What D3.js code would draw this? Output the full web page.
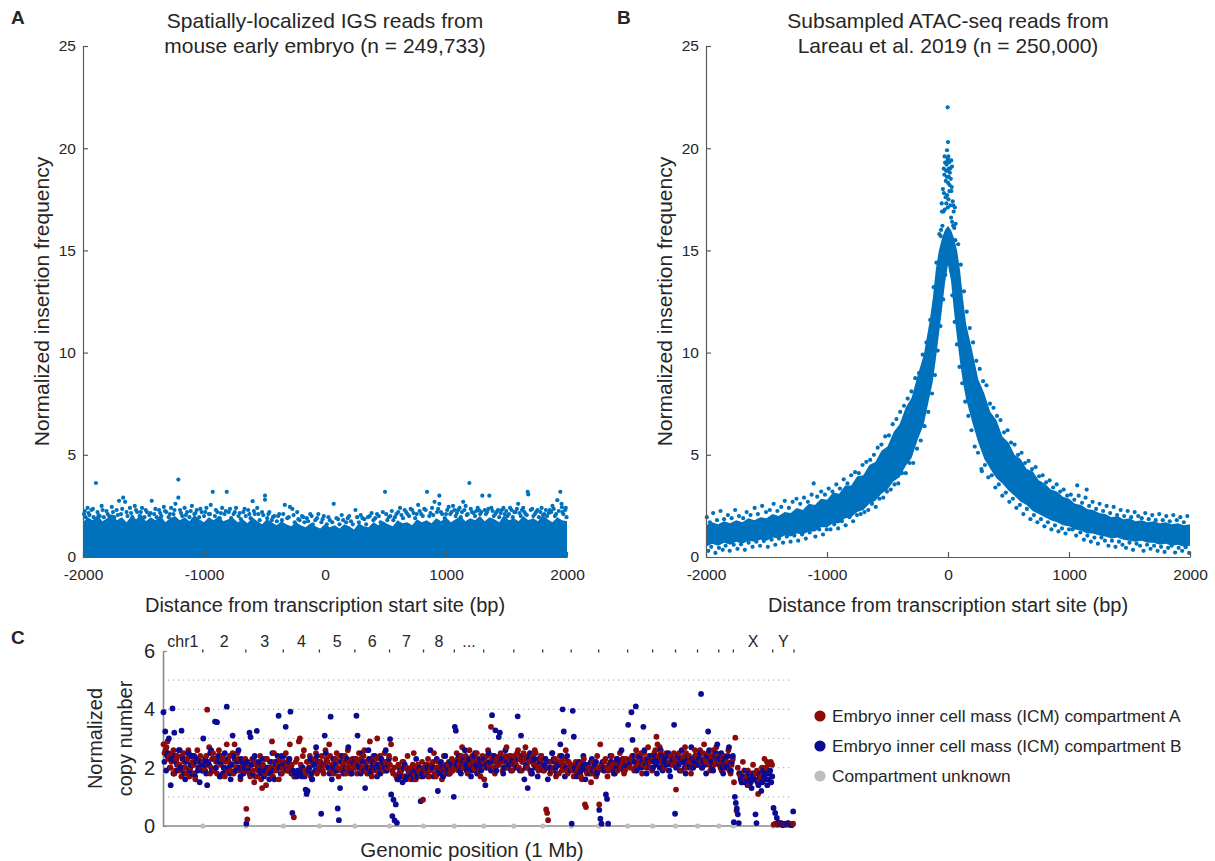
<!DOCTYPE html>
<html><head><meta charset="utf-8">
<script src="https://cdn.jsdelivr.net/npm/d3@7"></script>
<style>
body{margin:0;background:#fff;}
svg text{font-family:"Liberation Sans",Arial,Helvetica,sans-serif;fill:#262626;}
</style></head><body>
<svg id="chart" width="1215" height="861"></svg>
<script>
// ---------------- DATA ----------------
const tssTicks = [-2000, -1000, 0, 1000, 2000];
const freqTicks = [0, 5, 10, 15, 20, 25];

// Panel A: upper edge of the dense core of reads (core starts at 0), every 40 bp
const aBandX = [-2000,-1960,-1920,-1880,-1840,-1800,-1760,-1720,-1680,-1640,-1600,-1560,-1520,-1480,-1440,-1400,-1360,-1320,-1280,-1240,-1200,-1160,-1120,-1080,-1040,-1000,-960,-920,-880,-840,-800,-760,-720,-680,-640,-600,-560,-520,-480,-440,-400,-360,-320,-280,-240,-200,-160,-120,-80,-40,0,40,80,120,160,200,240,280,320,360,400,440,480,520,560,600,640,680,720,760,800,840,880,920,960,1000,1040,1080,1120,1160,1200,1240,1280,1320,1360,1400,1440,1480,1520,1560,1600,1640,1680,1720,1760,1800,1840,1880,1920,1960,2000];
const aBandHi = [1.7,1.95,1.8,2.05,1.75,1.9,2.1,1.8,1.95,1.7,2.0,1.85,2.1,1.75,1.95,1.8,2.05,1.7,1.9,2.0,1.8,1.95,1.75,2.05,1.85,1.7,1.95,1.8,2.0,1.75,1.85,1.9,1.7,1.85,1.65,1.95,1.75,1.6,1.85,1.7,1.55,1.75,1.6,1.5,1.7,1.55,1.45,1.65,1.5,1.4,1.6,1.45,1.55,1.4,1.6,1.5,1.35,1.65,1.5,1.45,1.7,1.55,1.75,1.6,1.5,1.8,1.65,1.7,1.55,1.85,1.7,1.8,1.65,1.9,1.75,1.95,1.7,1.85,2.0,1.75,1.9,1.8,2.0,1.75,1.95,1.85,1.7,2.05,1.8,1.9,1.75,2.0,1.8,1.9,1.75,2.05,1.85,1.7,1.95,1.8,1.75];
// Panel A: individual reads outside the core [bp, frequency]
const aPoints = [[-1992,2.1],[-1978,1.95],[-1962,2.4],[-1946,2.05],[-1930,2.3],[-1912,1.95],[-1893,3.62],[-1880,2.2],[-1862,2.0],[-1846,2.5],[-1828,1.95],[-1806,2.25],[-1784,2.0],[-1762,2.45],[-1742,1.95],[-1722,2.3],[-1702,2.75],[-1686,2.1],[-1668,2.9],[-1652,2.7],[-1632,2.0],[-1612,2.4],[-1592,1.95],[-1572,2.5],[-1552,2.2],[-1532,2.0],[-1512,2.4],[-1492,1.95],[-1472,2.2],[-1452,2.05],[-1432,2.75],[-1412,2.1],[-1392,1.95],[-1372,2.3],[-1352,2.0],[-1332,2.45],[-1312,2.2],[-1292,1.95],[-1272,2.4],[-1252,2.1],[-1236,2.6],[-1212,3.79],[-1212,2.9],[-1198,2.3],[-1180,2.0],[-1160,2.4],[-1140,2.2],[-1120,1.95],[-1100,2.5],[-1080,2.1],[-1060,2.3],[-1040,1.95],[-1020,2.2],[-1000,2.0],[-980,2.4],[-960,2.1],[-944,2.55],[-928,3.19],[-910,2.0],[-890,2.2],[-870,1.9],[-850,2.4],[-830,2.1],[-812,3.19],[-795,2.2],[-775,1.9],[-755,2.1],[-735,2.4],[-715,2.0],[-695,1.85],[-675,2.2],[-655,2.0],[-635,2.3],[-615,1.9],[-598,2.73],[-580,2.1],[-560,2.4],[-540,1.8],[-520,2.2],[-496,3.0],[-496,2.8],[-478,1.9],[-460,2.2],[-440,1.8],[-420,2.0],[-398,1.75],[-378,2.1],[-356,1.8],[-332,2.55],[-312,1.9],[-290,2.45],[-270,2.35],[-250,1.7],[-230,2.2],[-210,1.8],[-190,2.0],[-170,1.7],[-150,1.9],[-122,2.1],[-100,1.6],[-80,1.8],[-55,2.1],[-30,1.7],[-10,2.0],[15,1.6],[40,1.8],[72,2.6],[95,1.9],[120,1.6],[150,1.8],[175,1.7],[200,2.0],[230,1.6],[252,2.3],[280,1.7],[310,1.9],[340,1.6],[370,2.0],[400,1.8],[430,2.1],[460,1.7],[478,2.2],[496,3.19],[515,1.8],[540,2.0],[565,1.8],[590,2.1],[620,2.4],[645,1.9],[670,2.2],[695,2.0],[720,2.3],[745,1.9],[770,2.55],[795,2.1],[820,2.35],[843,3.19],[862,2.0],[885,2.4],[905,2.7],[925,2.2],[945,3.0],[945,2.6],[968,2.1],[990,1.9],[1010,2.3],[1035,2.1],[1058,2.5],[1080,2.0],[1100,2.3],[1122,1.95],[1142,2.7],[1162,2.5],[1180,2.1],[1193,3.62],[1215,2.2],[1240,2.0],[1262,2.4],[1282,2.1],[1300,3.0],[1320,2.3],[1340,2.2],[1358,3.0],[1375,2.4],[1395,2.0],[1418,2.2],[1440,1.95],[1462,2.3],[1485,2.1],[1508,2.0],[1530,2.4],[1552,1.95],[1575,2.2],[1596,2.6],[1618,2.0],[1638,2.4],[1658,2.1],[1675,3.19],[1680,3.06],[1700,2.3],[1722,2.0],[1745,2.2],[1768,1.95],[1790,2.4],[1812,2.1],[1835,2.0],[1858,2.3],[1880,2.5],[1900,2.0],[1920,2.78],[1945,3.19],[1955,2.6],[1958,2.44],[1970,2.1],[1985,2.3],[1996,1.95],
[-1985,2.25],[-1955,2.15],[-1918,2.35],[-1872,2.05],[-1838,2.3],[-1796,2.1],[-1752,2.2],[-1712,2.05],[-1676,2.35],[-1640,2.2],[-1602,2.15],[-1562,2.3],[-1522,2.2],[-1482,2.3],[-1442,2.15],[-1402,2.35],[-1362,2.15],[-1322,2.25],[-1282,2.1],[-1244,2.3],[-1190,2.15],[-1150,2.05],[-1110,2.25],[-1070,2.15],[-1030,2.35],[-990,2.2],[-950,2.1],[-902,2.3],[-860,2.15],[-820,2.25],[-785,2.35],[-745,2.2],[-705,2.15],[-665,2.35],[-625,2.1],[-588,2.25],[-550,2.1],[-510,2.05],[-468,2.1],[-430,1.95],[-388,2.0],[-345,2.1],[-300,1.95],[-260,2.05],[-220,1.85],[-180,1.95],[-140,1.75],[-110,2.0],[-66,1.9],[-20,1.85],[28,1.95],[60,1.7],[108,1.85],[138,2.05],[188,1.9],[215,1.75],[266,1.95],[295,2.05],[325,1.85],[355,1.95],[385,2.15],[415,1.9],[445,2.0],[505,2.1],[528,1.95],[552,2.25],[578,1.95],[605,2.2],[632,2.05],[658,2.3],[682,2.1],[708,2.35],[732,2.15],[758,2.1],[782,2.25],[808,2.0],[832,2.3],[872,2.15],[895,2.05],[935,2.35],[958,2.2],[1000,2.1],[1022,2.45],[1046,2.2],[1070,2.3],[1090,2.15],[1112,2.4],[1132,2.2],[1152,2.3],[1172,2.05],[1205,2.35],[1228,2.15],[1250,2.25],[1272,2.3],[1292,2.2],[1330,2.1],[1350,2.35],[1385,2.25],[1408,2.1],[1430,2.3],[1452,2.15],[1475,2.4],[1498,2.25],[1520,2.1],[1542,2.3],[1564,2.2],[1586,2.35],[1608,2.15],[1628,2.3],[1648,2.2],[1668,2.05],[1712,2.35],[1735,2.1],[1756,2.3],[1780,2.2],[1802,2.05],[1825,2.3],[1848,2.15],[1870,2.2],[1890,2.35],[1910,2.1],[1932,2.25],[1962,2.2],[1990,2.4]];

// Panel B: dense core of reads (lower / upper edge)
const bBandX  = [-2000,-1950,-1900,-1850,-1800,-1750,-1700,-1650,-1600,-1550,-1500,-1450,-1400,-1350,-1300,-1250,-1200,-1150,-1100,-1050,-1000,-950,-900,-850,-800,-750,-700,-650,-600,-550,-500,-450,-400,-350,-300,-250,-200,-150,-125,-100,-75,-50,-25,0,25,50,75,100,125,150,200,250,300,350,400,450,500,550,600,650,700,750,800,850,900,950,1000,1050,1100,1150,1200,1250,1300,1350,1400,1450,1500,1550,1600,1650,1700,1750,1800,1850,1900,1950,2000];
const bBandLo = [0.5,0.65,0.55,0.7,0.6,0.75,0.65,0.8,0.75,0.85,0.8,0.95,0.9,1.05,1.0,1.15,1.1,1.25,1.25,1.45,1.45,1.65,1.65,1.9,1.95,2.2,2.3,2.6,2.75,3.1,3.3,3.7,3.9,4.45,4.85,5.75,6.5,7.9,8.6,9.7,10.9,12.1,13.4,14.3,13.5,12.0,10.7,9.5,8.5,7.7,6.6,5.6,4.8,4.3,3.85,3.6,3.25,3.0,2.7,2.55,2.25,2.1,1.95,1.8,1.7,1.55,1.5,1.35,1.3,1.15,1.15,1.05,1.0,0.9,0.95,0.85,0.8,0.75,0.8,0.7,0.7,0.6,0.65,0.55,0.6,0.5,0.55];
const bBandHi = [1.55,1.7,1.6,1.75,1.65,1.8,1.7,1.9,1.8,1.95,1.9,2.1,2.0,2.2,2.15,2.4,2.3,2.6,2.55,2.85,2.8,3.15,3.1,3.5,3.5,3.95,4.0,4.5,4.65,5.2,5.4,6.1,6.5,7.3,7.8,8.9,9.9,11.6,12.7,14.1,15.0,15.6,16.0,16.2,16.0,15.6,15.0,14.0,12.6,11.4,10.1,8.7,8.0,7.1,6.7,5.9,5.6,5.0,4.8,4.3,4.2,3.75,3.6,3.3,3.2,2.95,2.85,2.6,2.55,2.35,2.3,2.15,2.1,1.95,2.0,1.85,1.9,1.75,1.8,1.7,1.75,1.65,1.7,1.6,1.65,1.55,1.6];
// Panel B: individual reads outside the core
const bPoints = [
[-1981,0.3],[-1957,0.5],[-1922,0.2],[-1893,0.45],[-1862,0.35],[-1838,0.55],[-1804,0.3],[-1771,0.6],[-1740,0.4],[-1711,0.62],[-1679,0.35],[-1648,0.7],[-1615,0.5],[-1584,0.75],[-1553,0.55],[-1522,0.78],[-1489,0.5],[-1458,0.85],[-1427,0.6],[-1396,0.9],[-1363,0.7],[-1332,1.0],[-1301,0.75],[-1270,1.05],[-1238,0.8],[-1206,1.1],[-1175,0.9],[-1143,1.2],[-1096,1.0],[-1064,1.35],[-1033,1.1],[-1002,1.35],
[-1993,1.95],[-1968,1.7],[-1941,2.15],[-1909,1.8],[-1880,2.25],[-1851,1.85],[-1819,2.05],[-1788,1.9],[-1759,2.3],[-1727,2.0],[-1693,1.9],[-1664,2.2],[-1632,2.05],[-1598,2.4],[-1571,2.1],[-1536,2.5],[-1504,2.2],[-1473,2.3],[-1441,2.6],[-1410,2.25],[-1378,2.45],[-1349,2.75],[-1315,2.4],[-1284,2.7],[-1252,2.85],[-1221,2.6],[-1190,2.9],[-1158,2.7],[-1127,3.05],[-1110,3.6],[-1081,2.95],[-1048,3.2],[-1017,3.05],
[-986,3.35],[-971,1.35],[-955,3.2],[-940,1.6],[-923,3.55],[-908,1.4],[-893,3.35],[-877,1.75],[-862,3.8],[-846,1.55],[-831,3.6],[-815,1.95],[-800,4.0],[-784,1.75],[-768,4.15],[-752,2.05],[-737,4.1],[-721,2.1],[-706,4.5],[-690,2.2],[-675,4.65],[-659,2.3],[-643,4.75],[-628,2.6],[-612,5.0],[-597,2.45],[-581,5.35],[-566,2.85],[-550,5.5],[-535,2.9],[-519,5.9],[-504,3.2],[-488,5.95],[-473,3.3],[-457,6.5],[-442,3.55],[-426,6.75],[-411,3.6],[-395,7.1],[-380,4.1],[-364,7.4],[-349,4.1],[-333,7.75],[-318,4.6],[-302,8.1],[-287,4.6],[-271,8.75],[-256,5.3],[-240,9.0],[-225,5.7],[-209,9.9],[-194,6.4],[-178,10.5],[-163,7.1],[-147,11.6],[-132,8.0],
[-118,13.2],[-108,8.9],[-96,14.4],[-85,10.1],[-72,15.8],[-62,11.3],[-50,16.9],[-40,12.6],[-33,17.8],[-22,13.8],[-18,18.4],[-12,19.2],[-8,19.9],[-5,18.9],[-3,22.0],[-1,19.5],[0,20.3],[3,19.6],[6,18.6],[9,19.3],[13,18.2],[17,19.0],[24,14.0],[28,17.9],[36,12.8],[44,17.2],[55,11.5],[63,16.3],[74,10.4],[84,15.3],[95,9.3],[106,14.3],[118,8.5],
[-58,16.0],[-52,17.3],[-46,16.2],[-42,18.0],[-37,16.9],[-30,18.7],[-27,17.0],[-24,19.3],[-20,17.6],[-16,18.9],[-14,17.3],[-10,18.6],[-7,17.7],[-4,19.4],[-2,17.1],[1,18.3],[4,17.5],[7,19.0],[11,17.9],[15,18.8],[19,17.2],[23,18.5],[26,16.6],[31,18.1],[34,16.4],[39,17.4],[42,16.2],[47,16.9],[52,16.1],[57,17.1],[-60,15.7],[60,15.5],[-35,19.0],[33,19.1],[-28,19.6],[27,19.4],
[132,13.0],[142,7.6],[155,12.0],[168,6.9],[180,11.2],[194,6.2],[207,10.5],[221,5.4],[234,9.6],[248,5.1],[262,9.2],[276,4.3],[280,4.2],[290,8.6],
[305,4.5],[333,3.9],[362,4.0],[391,3.4],[420,3.55],[449,3.0],[478,3.15],[507,2.7],[536,2.85],[565,2.4],[594,2.55],[623,2.1],[652,2.35],[681,1.85],[710,2.05],[739,1.7],[768,1.85],[797,1.5],[826,1.7],[855,1.35],[884,1.55],[913,1.25],[942,1.4],[971,1.15],[1000,1.35],
[318,8.4],[347,7.5],[376,7.3],[405,6.9],[434,6.7],[463,6.1],[492,6.2],[521,5.6],[550,5.5],[579,5.0],[608,5.1],[637,4.6],[666,4.7],[695,4.3],[724,4.4],[753,3.95],[782,4.0],[811,3.65],[840,3.75],[869,3.4],[898,3.55],[927,3.2],[956,3.3],[985,3.0],
[1030,1.35],[1059,1.05],[1094,1.2],[1123,0.85],[1152,1.05],[1181,0.75],[1210,0.95],[1239,0.65],[1268,0.95],[1297,0.8],[1326,0.55],[1355,0.8],[1384,0.5],[1413,0.75],[1442,0.6],[1471,0.45],[1500,0.7],[1529,0.35],[1558,0.65],[1587,0.55],[1616,0.3],[1645,0.6],[1674,0.4],[1703,0.55],[1732,0.3],[1761,0.5],[1790,0.25],[1819,0.45],[1848,0.55],[1877,0.22],[1906,0.45],[1935,0.3],[1964,0.48],[1993,0.2],
[1015,3.05],[1044,2.8],[1068,3.5],[1080,3.0],[1108,2.65],[1137,2.9],[1146,3.3],[1166,2.5],[1195,2.7],[1224,2.35],[1253,2.6],[1282,2.25],[1311,2.5],[1340,2.15],[1369,2.45],[1398,2.05],[1427,2.3],[1456,2.0],[1485,2.25],[1514,1.95],[1543,2.2],[1572,2.0],[1601,1.9],[1630,2.15],[1659,1.85],[1688,2.05],[1717,1.8],[1746,2.1],[1775,1.8],[1804,2.0],[1833,1.75],[1862,2.05],[1891,1.8],[1920,1.95],[1949,1.7],[1978,2.0]];

// Panel C: chromosomes (length in 1-Mb bins) and labels
const chromNames   = ["1","2","3","4","5","6","7","8","9","10","11","12","13","14","15","16","17","18","19","X","Y"];
const chromLabels  = ["chr1","2","3","4","5","6","7","8","...","","","","","","","","","","","X","Y"];
const chromLengths = [172,186,162,156,153,150,147,133,127,130,125,123,119,125,108,99,95,92,63,170,92];
const copyTicks = [0, 2, 4, 6];
const copyGrid  = [1, 2, 3, 4, 5];
// normalized copy number of bins in compartment A, per chromosome (in genomic order)
const compA = [
 [2.8,2.5,2.6,2.7,2.9,2.3,2.4,2.0,2.2,2.5,2.6,1.8,1.9,2.3,2.4,2.1,2.1,1.9,1.7,2.4,2.5,2.2,2.0,1.8,2.3,2.6,1.7,2.0,2.4,2.2,2.1,1.8,1.6,2.3,2.6,2.0,2.2,2.4,2.0,1.9],
 [2.2,2.0,1.9,2.4,3.99,2.1,2.7,1.8,2.0,2.3,2.5,1.9,2.3,2.2,1.8,2.4,2.6,1.7,2.1,2.3,2.4,2.0,1.7,2.2,2.8,1.9,2.2,2.4,1.9,2.1,2.5,1.8,2.8,2.2,2.0,2.5,2.3,1.9,1.6,2.2,2.1,2.0,1.9,2.3],
 [0.59,0.23,2.0,1.8,1.7,2.1,2.3,1.9,1.5,2.2,2.1,1.7,1.9,2.0,2.4,1.6,1.3,2.1,2.0,1.8,1.4,2.3,1.8,1.9,2.2,2.0,2.9,1.7,2.5,2.2,1.9,2.0,2.1,1.6,2.3,2.2,1.8,2.0],
 [2.2,1.9,2.5,2.1,1.9,2.3,2.8,2.0,2.1,1.8,0.3,1.7,2.2,2.3,1.9,2.9,3.0,2.1,2.0,2.4,2.6,1.9,1.8,2.2,2.2,2.0,2.4,1.7,1.6,2.1,2.1,2.3,2.5,1.8,1.9,2.2],
 [2.0,2.2,2.4,1.9,1.8,2.1,2.6,2.3,2.2,2.0,2.8,2.4,1.9,2.1,2.3,1.8,2.1,2.3,2.5,2.0,1.7,2.2,2.4,1.9,2.0,2.1,2.2,2.4,1.8,2.0,2.6,2.2,2.1,1.8,1.9,2.3,2.3,2.0],
 [2.1,2.3,1.8,2.0,2.5,2.2,2.3,1.9,2.0,2.4,2.6,2.1,1.9,1.8,2.2,2.3,2.9,2.0,1.7,2.2,2.4,1.9,2.1,2.3,3.0,2.0,1.8,2.4,2.3,2.1,2.0,1.9,2.5,2.2,1.9,2.0,2.2,2.4],
 [2.1,2.8,1.9,1.8,2.0,2.3,1.7,1.6,2.1,2.0,1.8,1.9,2.2,2.2,1.7,1.7,2.0,2.4,1.9,1.8,1.6,2.0,2.1,2.5,1.8,1.6,2.0,2.1,1.9,1.9,1.7,2.2,0.9],
 [2.0,1.9,1.8,2.1,2.3,1.7,1.9,2.0,2.1,2.2,2.5,1.8,1.7,2.0,2.2,1.9,2.0,2.1,1.6,1.9,2.4,2.0,1.9,1.8,2.1,2.2,1.8,2.0,2.3,1.9,2.0],
 [2.2,2.0,2.5,2.3,1.9,2.1,2.3,2.4,2.7,2.0,2.0,2.2,2.4,1.9,1.8,2.3,2.6,2.1,2.1,2.4,2.3,2.0,1.9,2.2,2.5,2.3,2.2,1.9,1.7,2.1,2.4,2.2],
 [1.6,2.0,2.2,2.4,2.6,2.1,2.0,3.4,2.3,2.4,2.0,1.8,2.2,2.3,2.1,2.1,2.4,2.5,2.2,1.9,2.0,2.2,2.4,2.7,2.1,2.0,2.3,2.4,2.2,1.9,2.1],
 [2.4,2.2,2.1,2.5,2.6,2.0,2.3,2.4,1.9,2.2,2.5,2.3,2.7,2.1,2.0,2.4,2.2,1.9,1.8,2.3,2.4,2.1,2.6,2.5,2.1,2.0,1.9,2.2,2.3,2.4,2.0],
 [2.1,1.9,2.3,0.57,0.45,0.2,2.0,1.8,2.2,2.5,1.9,2.0,2.3,1.7,2.1,2.2,1.8,2.4,2.2,1.9,2.0,2.1,2.3,2.6,1.9,1.8,2.2,2.0,2.1],
 [2.0,1.9,1.7,2.1,2.2,1.8,1.9,2.0,2.1,1.7,1.6,2.2,2.3,0.74,0.65,1.8,2.0,2.0,1.9,1.5,1.8,2.2,2.1,1.9,1.7,2.4,2.0],
 [0.74,2.8,2.1,2.0,1.9,2.2,2.3,2.0,1.7,1.9,2.0,2.2,2.4,2.1,1.8,2.0,2.2,2.3,1.9,2.1,2.5,2.0,2.1,2.3,1.8,1.9,2.3,2.2],
 [2.2,2.1,2.0,2.3,2.4,2.2,1.9,2.0,2.6,2.4,2.1,2.2,2.3,2.5,1.8,2.1,2.5,2.3,2.0,2.2,2.7,2.4,2.2,2.0,1.9],
 [2.3,2.5,2.6,3.06,2.8,2.4,2.7,2.5,2.2,2.3,2.0,2.1,2.5,2.4,1.9,2.2,2.4,2.3,2.1,2.5,2.3],
 [1.25,2.2,2.1,2.5,2.3,1.9,2.2,2.3,2.4,2.7,2.5,2.0,2.1,2.4,2.2,1.8,2.0,2.2,2.3,2.6,2.4,2.1],
 [2.3,2.4,2.6,2.2,2.0,2.5,2.8,2.3,2.2,2.4,2.5,2.1,1.9,2.3,2.4,2.6,2.1,2.2,2.7,2.4,2.2],
 [2.2,2.0,1.9,2.3,2.4,2.1,2.0,2.2,2.6,1.9,1.8,2.1,2.3],
 [1.5,3.03,0.52,2.0,1.8,1.7,1.5,2.2,1.9,1.6,1.7,1.9,1.4,1.5,1.8,2.1,1.6,1.8,1.9,1.1,1.6,1.7,2.0,1.8,2.3,2.0,2.2,2.1,1.9,2.2,2.1],
 [0.05,0.08,0.04,0.06,0.1,0.03,0.07,0.05,0.09,0.04,0.06,0.08]
];
// normalized copy number of bins in compartment B, per chromosome
const compB = [
 [3.9,2.2,3.24,1.9,2.4,2.5,3.0,2.0,1.4,2.3,4.03,1.8,3.2,2.4,2.2,2.1,1.9,2.6,2.6,2.0,3.27,2.3,2.0,1.8,1.6,2.2,2.3,2.5,2.5,1.9,2.1,2.4,1.8,2.1,2.4,1.7,2.2,2.3,1.9,2.0,1.5,2.2,2.1,1.9],
 [3.0,2.1,2.3,1.8,1.4,2.2,2.1,2.5,2.6,1.9,1.9,2.3,3.58,2.0,3.56,2.2,2.4,1.7,2.2,2.4,1.8,2.0,2.5,1.9,4.09,2.3,2.0,1.8,1.6,2.1,3.1,2.4,2.3,1.9,1.9,2.2,2.6,2.0,1.7,2.3,2.2,1.8,2.0,2.1],
 [0.08,2.2,1.9,3.2,3.05,2.1,1.8,2.3,2.4,1.7,3.26,2.0,2.2,1.9,1.8,2.1,2.3,1.7,1.9,2.3,2.0,2.0,1.6,1.8,2.2,2.5,1.9,1.6,2.1,2.2,2.4,3.78,2.0,1.8,2.4,2.1],
 [2.4,2.1,3.4,2.0,1.9,2.2,2.3,3.92,1.8,0.45,1.9,1.7,1.8,1.8,1.7,1.9,1.9,1.8,1.8,1.7,2.0,1.9,1.7,1.25,1.1,1.2,1.9,2.0,2.3,1.8,1.6,2.2,2.1,1.9,2.7,2.4,2.2,2.0],
 [2.2,0.42,1.9,2.1,3.1,2.5,2.2,2.0,1.8,3.75,1.6,2.0,2.3,2.1,1.9,0.6,0.2,1.3,2.2,2.4,1.8,1.9,2.0,2.3,2.7,2.1,1.9,1.8,2.2,2.0],
 [2.3,3.78,3.1,2.1,2.0,1.8,2.5,2.2,1.9,1.3,2.2,2.0,2.6,2.3,1.8,1.9,2.1,2.2,2.4,2.0,1.7,2.1,2.0,1.8,2.3,2.2,1.9,2.0,2.6,1.9,2.1,2.3],
 [2.98,1.08,0.34,0.9,0.19,0.74,0.11,1.6,1.8,1.9,1.7,1.5,2.0,2.1,1.6,1.7,1.9,1.8,1.7,2.0,1.8,1.6,1.9,2.3,1.7,1.9,2.0,0.85,1.8,1.7],
 [1.9,1.8,2.1,2.0,1.7,1.9,2.6,2.1,2.0,1.7,1.8,2.0,2.3,1.2,1.9,1.8,2.2,2.0,1.7,1.9,2.4,2.1,2.0,1.8,1.8,2.2,2.1,1.9,1.0],
 [3.4,3.27,2.1,2.2,2.4,1.9,1.8,2.0,2.2,2.3,2.6,2.1,1.9,2.0,2.3,2.2,1.7,1.9,2.0,2.4,2.5,2.1,1.8,2.0,2.1,2.3,1.9,2.1,2.2],
 [2.3,1.4,2.1,2.0,2.5,2.2,1.9,3.8,2.2,2.4,3.28,1.9,2.1,3.05,3.2,2.2,2.3,1.8,2.0,2.6,2.2,2.0,2.1,2.4,1.9,2.2,2.3],
 [2.2,2.1,2.0,3.76,2.3,1.9,3.1,2.2,2.4,1.6,2.0,2.1,1.3,2.3,2.5,1.9,1.8,2.2,2.3,2.0,2.1,1.7,2.3,2.2,2.4,2.0],
 [1.9,2.1,2.3,2.0,1.6,2.2,2.0,1.9,2.5,2.3,2.2,2.0,1.8,2.1,2.1,2.8,2.4,4.0,3.24,1.7,2.0,2.4,2.2,2.0,1.9],
 [0.08,3.95,3.06,2.0,1.9,1.7,2.1,2.2,1.8,1.9,2.0,2.4,2.1,1.6,1.9,2.1,2.0,1.8,2.2,2.3,1.9,2.0,2.1,2.2,1.8,1.9],
 [0.55,0.25,0.08,2.2,2.0,1.9,1.08,0.93,0.08,2.1,2.4,2.2,2.1,1.9,1.8,2.0,2.3,2.2,2.0,2.1,2.6,2.3,1.9,2.0,2.2,2.1],
 [3.47,2.1,2.3,3.9,2.95,2.4,2.2,4.1,1.9,2.1,2.3,2.4,2.0,2.2,3.4,2.6,2.1,1.8,2.3,2.2,2.0,2.4,2.3],
 [2.0,2.2,2.4,2.1,1.8,2.3,2.2,2.0,2.6,2.4,1.9,2.1,2.3,2.2,2.1,2.4,2.5,1.9,1.7,2.1,2.2,2.3,3.47,0.42],
 [2.0,2.2,2.4,2.1,1.9,2.3,2.6,2.2,2.2,2.0,1.8,2.1,2.3,2.4,2.1,2.0,2.7,2.3,2.0,2.2,2.4,2.1,2.2],
 [2.1,2.3,2.5,4.53,2.0,2.2,2.3,2.1,1.8,2.4,3.24,2.6,2.3,2.2,2.0,1.9,2.2,2.4,2.5,2.8,2.3],
 [2.1,2.3,2.5,2.0,1.8,2.2,2.3,2.1,2.0,2.4,2.7,2.1,1.9,2.2,2.4],
 [0.13,1.0,0.79,0.6,0.4,0.1,1.8,1.6,1.5,1.7,1.7,1.5,1.9,1.6,1.4,1.8,1.6,1.5,1.3,1.7,1.8,1.6,0.4,0.1,1.5,1.4,1.7,1.8,1.2,1.5,1.9,1.7,1.6,1.8,1.4,1.6,1.8,1.9,1.5,1.7],
 [0.62,0.45,0.28,0.12,0.06,0.09,0.04,0.08,0.05,0.1,0.07,0.03,0.5]
];
// bins of unknown compartment (copy number 0) at the end of these chromosomes
const unknownAtEnd = ["1","2","3","4","5","6","7","8","9","10","11","12","13","14","15","16","17","18","19","X"];
const unknownValue = 0;
const legendItems = ["Embryo inner cell mass (ICM) compartment A","Embryo inner cell mass (ICM) compartment B","Compartment unknown"];

// ---------------- DRAWING ----------------
const svg = d3.select("#chart");
const blue = "#0072bd", axisCol = "#5a5a5a";
const colA = "#8b0a0a", colB = "#0a0a92", colU = "#bdbdbd";
const FONT = '"Liberation Sans",Arial,sans-serif';

const yAB = d3.scaleLinear().domain([0, 25]).range([557, 46]);
const xA = d3.scaleLinear().domain([-2000, 2000]).range([83, 567]);
const xB = d3.scaleLinear().domain([-2000, 2000]).range([706, 1190]);

function styleAxis(g, fs) {
  g.select(".domain").attr("stroke", axisCol).attr("stroke-width", 1.2);
  g.selectAll(".tick line").attr("stroke", axisCol).attr("stroke-width", 1.2);
  g.selectAll(".tick text").attr("font-size", fs).attr("fill", "#262626").attr("font-family", FONT);
}

function drawTSS(xs, bx, blo, bhi, pts, t1, t2, letter, letterX) {
  const g = svg.append("g");
  const band = bx.map((x, i) => ({x: x, lo: blo ? blo[i] : 0, hi: bhi[i]}));
  g.append("path").datum(band)
    .attr("d", d3.area().x(d => xs(d.x)).y0(d => yAB(d.lo)).y1(d => yAB(d.hi)))
    .attr("fill", blue);
  g.append("g").selectAll("circle").data(pts).join("circle")
    .attr("cx", d => xs(d[0])).attr("cy", d => yAB(d[1])).attr("r", 2.1).attr("fill", blue);
  const ax = g.append("g").attr("transform", `translate(0,${yAB(0)})`)
    .call(d3.axisBottom(xs).tickValues(tssTicks).tickFormat(d => String(d))
      .tickSizeInner(-5).tickSizeOuter(0).tickPadding(12));
  styleAxis(ax, 15.5);
  const ay = g.append("g").attr("transform", `translate(${xs(-2000)},0)`)
    .call(d3.axisLeft(yAB).tickValues(freqTicks).tickSizeInner(-5).tickSizeOuter(0).tickPadding(7));
  styleAxis(ay, 15.5);
  const cx = xs(0);
  g.append("text").attr("x", cx).attr("y", 28).attr("text-anchor", "middle").attr("font-size", 21).text(t1);
  g.append("text").attr("x", cx).attr("y", 53).attr("text-anchor", "middle").attr("font-size", 21).text(t2);
  g.append("text").attr("x", cx).attr("y", 612).attr("text-anchor", "middle").attr("font-size", 20)
    .text("Distance from transcription start site (bp)");
  g.append("text").attr("transform", `translate(${xs(-2000) - 34},${(yAB(0) + yAB(25)) / 2}) rotate(-90)`)
    .attr("text-anchor", "middle").attr("font-size", 21).text("Normalized insertion frequency");
  g.append("text").attr("x", letterX).attr("y", 24).attr("font-size", 19).attr("font-weight", "bold").text(letter);
}

drawTSS(xA, aBandX, null, aBandHi, aPoints,
  "Spatially-localized IGS reads from", "mouse early embryo (n = 249,733)", "A", 11);
drawTSS(xB, bBandX, bBandLo, bBandHi, bPoints,
  "Subsampled ATAC-seq reads from", "Lareau et al. 2019 (n = 250,000)", "B", 617);

// ---------- Panel C ----------
const total = d3.sum(chromLengths);
const starts = [0];
chromLengths.forEach((l, i) => starts.push(starts[i] + l));
const xC = d3.scaleLinear().domain([0, total]).range([163, 794]);
const yC = d3.scaleLinear().domain([0, 6]).range([826, 651]);
const gC = svg.append("g");

gC.append("text").attr("x", 11).attr("y", 644).attr("font-size", 19).attr("font-weight", "bold").text("C");

// dotted grid
gC.selectAll("line.grid").data(copyGrid).join("line").attr("class", "grid")
  .attr("x1", xC(0)).attr("x2", xC(total) - 2).attr("y1", d => yC(d)).attr("y2", d => yC(d))
  .attr("stroke", "#b0b0b0").attr("stroke-width", 1.1).attr("stroke-dasharray", "1.2,3.8");

// bottom axis line
gC.append("line").attr("x1", xC(0)).attr("x2", xC(total) + 1).attr("y1", yC(0)).attr("y2", yC(0))
  .attr("stroke", "#8a8a8a").attr("stroke-width", 1.6);

// left axis
const ayC = gC.append("g").attr("transform", `translate(${xC(0)},0)`)
  .call(d3.axisLeft(yC).tickValues(copyTicks).tickFormat(d => String(d)).tickSizeInner(-4).tickSizeOuter(0).tickPadding(8));
styleAxis(ayC, 20);
ayC.select(".domain").attr("stroke", "#8a8a8a").attr("stroke-width", 1.6);
ayC.selectAll(".tick line").attr("stroke", "#8a8a8a");

// chromosome labels and boundary ticks on top
gC.selectAll("text.chr").data(chromLabels).join("text").attr("class", "chr")
  .attr("x", (d, i) => xC(starts[i] + chromLengths[i] / 2)).attr("y", 647)
  .attr("text-anchor", "middle").attr("font-size", 16).text(d => d);
gC.selectAll("line.chrtick").data(chromLengths).join("line").attr("class", "chrtick")
  .attr("x1", (d, i) => xC(starts[i + 1])).attr("x2", (d, i) => xC(starts[i + 1]))
  .attr("y1", 649.5).attr("y2", 652.5).attr("stroke", "#333").attr("stroke-width", 1.3);

// unknown-compartment bins
const unknownPts = unknownAtEnd.map(n => starts[chromNames.indexOf(n) + 1]);
gC.selectAll("circle.unk").data(unknownPts).join("circle").attr("class", "unk")
  .attr("cx", d => xC(d)).attr("cy", yC(unknownValue)).attr("r", 2.6).attr("fill", colU);

// compartment bins
const cPts = [];
[[compA, colA], [compB, colB]].forEach(([arr, col]) => {
  arr.forEach((vals, ci) => {
    const n = vals.length;
    vals.forEach((v, j) => cPts.push({pos: starts[ci] + (j + 0.5) * chromLengths[ci] / n, v: v, col: col}));
  });
});
cPts.sort((a, b) => a.pos - b.pos);
gC.append("g").selectAll("circle").data(cPts).join("circle")
  .attr("cx", d => xC(d.pos)).attr("cy", d => yC(d.v)).attr("r", 2.9).attr("fill", d => d.col);

// axis titles
gC.append("text").attr("x", 472).attr("y", 857).attr("text-anchor", "middle")
  .attr("font-size", 20.5).text("Genomic position (1 Mb)");
gC.append("text").attr("transform", `translate(102,${(yC(0) + yC(6)) / 2}) rotate(-90)`)
  .attr("text-anchor", "middle").attr("font-size", 20).text("Normalized");
gC.append("text").attr("transform", `translate(132,${(yC(0) + yC(6)) / 2}) rotate(-90)`)
  .attr("text-anchor", "middle").attr("font-size", 20).text("copy number");

// legend
const legCols = [colA, colB, colU];
const leg = gC.selectAll("g.leg").data(legendItems).join("g").attr("class", "leg")
  .attr("transform", (d, i) => `translate(820,${716 + i * 30})`);
leg.append("circle").attr("r", 5.6).attr("fill", (d, i) => legCols[i]);
leg.append("text").attr("x", 12).attr("y", 6).attr("font-size", 17.3).text(d => d);
</script></body></html>
